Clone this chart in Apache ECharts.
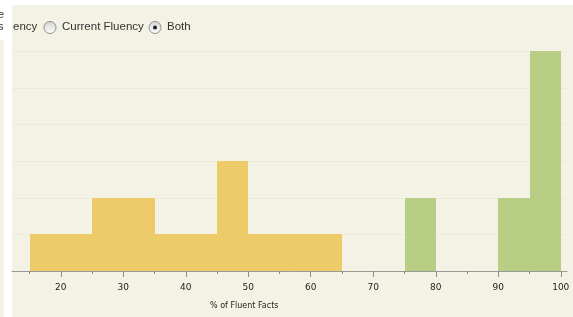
<!DOCTYPE html>
<html>
<head>
<meta charset="utf-8">
<script src="https://cdn.jsdelivr.net/npm/echarts@6/dist/echarts.min.js"></script>
<style>
  html, body { margin: 0; padding: 0; background: #fff; }
  #chart { width: 573px; height: 317px; }
</style>
</head>
<body>
<div id="chart"></div>
<script>
// histogram bins (% of fluent facts) and counts
const yellowStart = [15, 25, 35, 45, 50];
const yellowEnd   = [25, 35, 45, 50, 65];
const yellowCount = [1, 2, 1, 3, 1];

const greenStart = [75, 90, 95];
const greenEnd   = [80, 95, 100];
const greenCount = [2, 2, 6];

const majorTicks = [20, 30, 40, 50, 60, 70, 80, 90, 100];
const minorTicks = [15, 25, 35, 45, 55, 65, 75, 85, 95];
const yTicks = [1, 2, 3, 4, 5, 6];

const chart = echarts.init(document.getElementById('chart'));

function zip(a, b, c) {
  return a.map((v, i) => [v, b[i], c[i]]);
}

function histItem(fill) {
  return function (params, api) {
    const p0 = api.coord([api.value(0), api.value(2)]);
    const p1 = api.coord([api.value(1), 0]);
    const x0 = Math.round(p0[0]), x1 = Math.round(p1[0]);
    const y0 = Math.round(p0[1]), y1 = Math.round(p1[1]);
    return {
      type: 'rect',
      shape: { x: x0, y: y0, width: x1 - x0, height: y1 - y0 },
      style: { fill: fill }
    };
  };
}

const font = 'Liberation Sans';
const radioFill = new echarts.graphic.LinearGradient(0, 0, 0, 1, [
  { offset: 0, color: '#d4d4d4' }, { offset: 1, color: '#ffffff' }
]);

chart.setOption({
  backgroundColor: '#F4F2E4',
  animation: false,
  grid: {
    left: 12, right: 6, top: 5, bottom: 46,
    outerBoundsMode: 'none'
  },
  xAxis: [
    {
      type: 'value',
      min: 12.2,
      max: 101,
      axisLine: { show: true, lineStyle: { color: '#9a9a96', width: 1 } },
      axisTick: { show: true, customValues: majorTicks, length: 6, lineStyle: { color: '#8a8a86' } },
      axisLabel: {
        customValues: majorTicks,
        margin: 12,
        color: '#222',
        fontFamily: 'DejaVu Sans',
        fontSize: 9
      },
      splitLine: { show: false }
    },
    {
      type: 'value',
      min: 12.2,
      max: 101,
      position: 'bottom',
      axisLine: { show: false },
      axisTick: { show: true, customValues: minorTicks, length: 3, lineStyle: { color: '#8a8a86' } },
      axisLabel: { show: false },
      splitLine: { show: false }
    }
  ],
  yAxis: {
    type: 'value',
    min: 0,
    max: 7.27,
    axisLine: { show: false },
    axisTick: { show: false, customValues: yTicks },
    axisLabel: { show: false },
    splitLine: { show: true, lineStyle: { color: '#ECEADD', width: 1 } }
  },
  graphic: [
    { type: 'rect', shape: { x: 0, y: 0, width: 573, height: 5 }, style: { fill: '#fff' } },
    { type: 'rect', shape: { x: 4, y: 0, width: 8, height: 317 }, style: { fill: '#fff' } },
    { type: 'rect', shape: { x: 0, y: 0, width: 4, height: 40 }, style: { fill: '#fff' } },
    { type: 'text', left: -2, top: 9, style: { text: 'e', fill: '#333', font: '11px ' + font } },
    { type: 'text', left: -2, top: 21, style: { text: 's', fill: '#333', font: '11px ' + font } },
    { type: 'text', left: 13, top: 21, style: { text: 'ency', fill: '#333', font: '11.5px ' + font } },
    { type: 'circle', shape: { cx: 50, cy: 27.5, r: 6 }, style: { fill: radioFill, stroke: '#8e8f8f', lineWidth: 1 } },
    { type: 'text', left: 62, top: 21, style: { text: 'Current Fluency', fill: '#333', font: '11.5px ' + font } },
    { type: 'circle', shape: { cx: 155, cy: 27.5, r: 6 }, style: { fill: radioFill, stroke: '#8e8f8f', lineWidth: 1 } },
    { type: 'circle', shape: { cx: 155, cy: 27.5, r: 2 }, style: { fill: '#222' } },
    { type: 'text', left: 167, top: 21, style: { text: 'Both', fill: '#333', font: '11.5px ' + font } },
    {
      type: 'text', left: 210, top: 302,
      style: { text: '% of Fluent Facts', fill: '#222', font: '8px DejaVu Sans' }
    }
  ],
  series: [
    {
      name: 'Yellow',
      type: 'custom',
      renderItem: histItem('#EECB69'),
      encode: { x: [0, 1], y: 2 },
      data: zip(yellowStart, yellowEnd, yellowCount)
    },
    {
      name: 'Green',
      type: 'custom',
      renderItem: histItem('#B7CE84'),
      encode: { x: [0, 1], y: 2 },
      data: zip(greenStart, greenEnd, greenCount)
    }
  ]
});
</script>
</body>
</html>
